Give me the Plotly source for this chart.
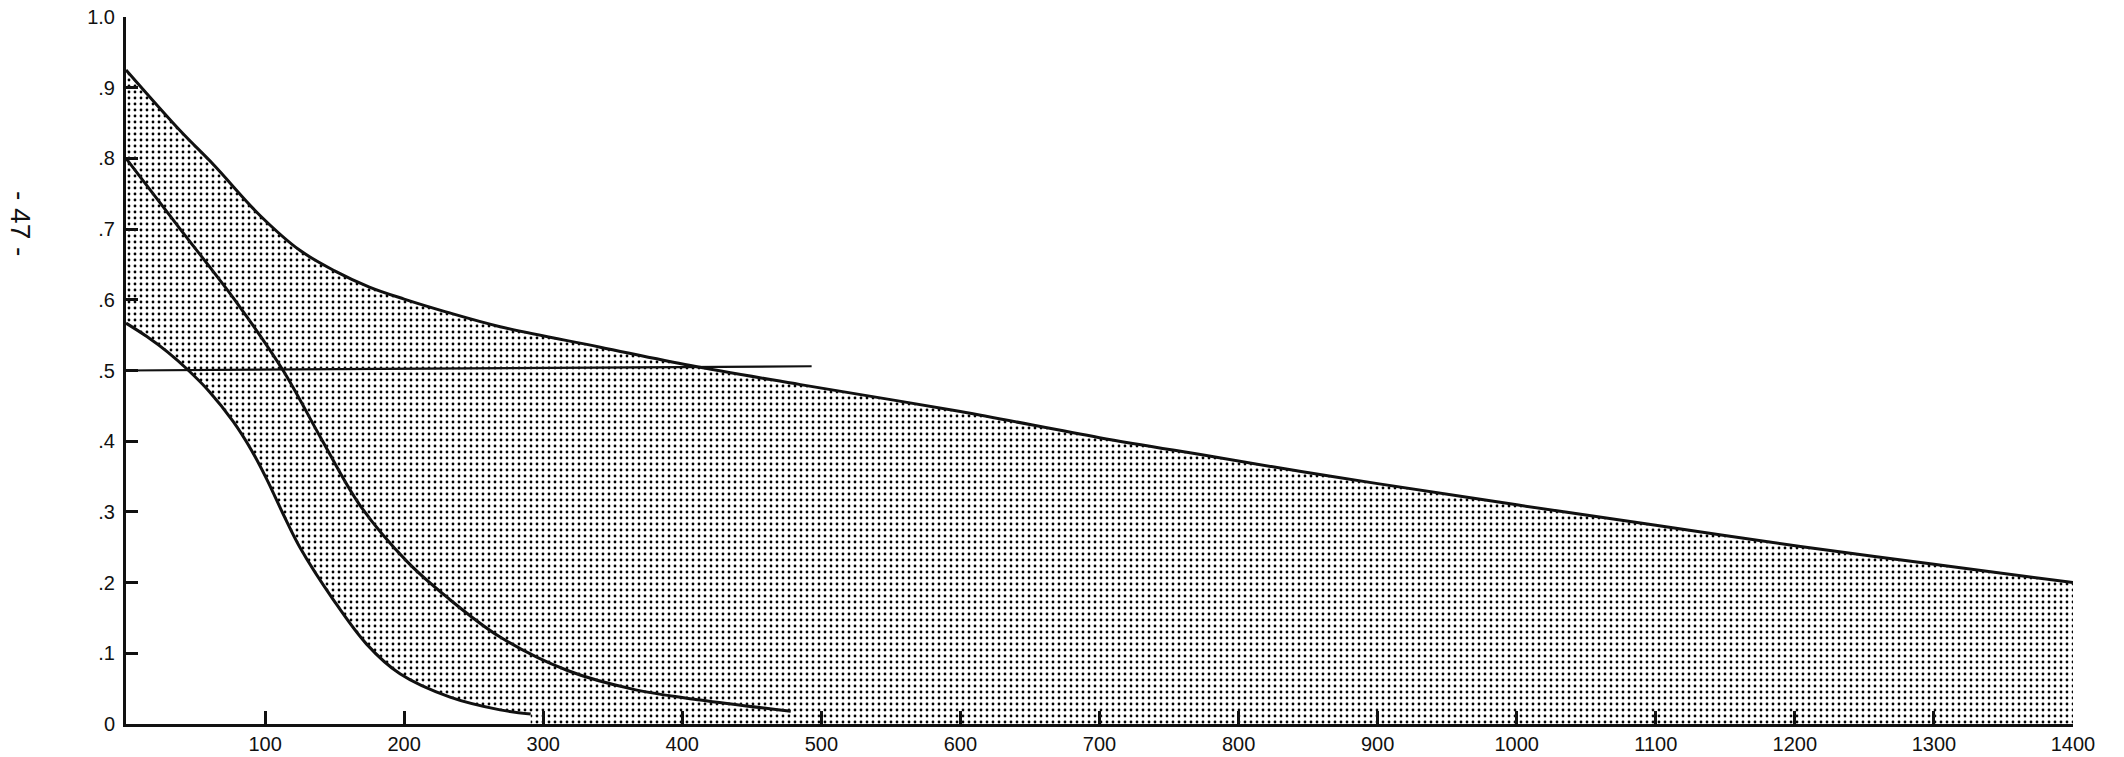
import plotly.graph_objects as go

# Upper boundary of the shaded band
upper_x = [0, 39, 63, 96, 125, 150, 175, 200, 230, 269, 341, 406, 485, 600, 700, 782, 845, 900, 1000, 1100, 1204, 1300, 1400]
upper_y = [0.925, 0.839, 0.791, 0.72, 0.670, 0.641, 0.618, 0.601, 0.583, 0.562, 0.533, 0.507, 0.48, 0.442, 0.405, 0.378, 0.357, 0.340, 0.310, 0.281, 0.251, 0.226, 0.200]

# Lower boundary of the shaded band (left part)
lower_x = [0, 15, 30, 45, 60, 77, 90, 101, 113, 125, 149, 173, 197, 233, 269, 291]
lower_y = [0.567, 0.548, 0.526, 0.50, 0.470, 0.428, 0.388, 0.347, 0.297, 0.250, 0.176, 0.113, 0.071, 0.038, 0.020, 0.014]

# Middle curve
mid_x = [0, 39, 80, 113, 140, 168, 202, 231, 269, 317, 365, 413, 478]
mid_y = [0.80, 0.70, 0.595, 0.50, 0.405, 0.31, 0.230, 0.179, 0.123, 0.076, 0.049, 0.034, 0.018]

# Horizontal reference line
ref_x = [0, 493]
ref_y = [0.500, 0.506]

x_ticks = [100, 200, 300, 400, 500, 600, 700, 800, 900, 1000, 1100, 1200, 1300, 1400]
x_labels = [str(v) for v in x_ticks]
y_ticks = [0, 0.1, 0.2, 0.3, 0.4, 0.5, 0.6, 0.7, 0.8, 0.9, 1.0]
y_labels = ["0", ".1", ".2", ".3", ".4", ".5", ".6", ".7", ".8", ".9", "1.0"]

INK = "#111111"
FONT = "Liberation Sans, Arial, Helvetica, sans-serif"
SPL = dict(shape="spline", smoothing=1.0)

fig = go.Figure()

# stippled area under the upper curve
fig.add_trace(go.Scatter(
    x=upper_x, y=upper_y, mode="lines",
    line=dict(color=INK, width=3, **SPL),
    fill="tozeroy", fillcolor="rgba(0,0,0,0)",
    fillpattern=dict(shape=".", size=6, solidity=0.17, fgcolor="#000000",
                     bgcolor="#ffffff", fillmode="replace"),
    hoverinfo="skip", showlegend=False))

# white area beneath the lower curve
fig.add_trace(go.Scatter(
    x=lower_x, y=lower_y, mode="lines",
    line=dict(color=INK, width=3, **SPL),
    fill="tozeroy", fillcolor="#ffffff",
    hoverinfo="skip", showlegend=False))

# middle curve
fig.add_trace(go.Scatter(
    x=mid_x, y=mid_y, mode="lines",
    line=dict(color=INK, width=3, **SPL),
    hoverinfo="skip", showlegend=False))

# horizontal line near .5
fig.add_trace(go.Scatter(
    x=ref_x, y=ref_y, mode="lines",
    line=dict(color=INK, width=2.2),
    hoverinfo="skip", showlegend=False))

fig.update_layout(
    width=2124, height=757,
    margin=dict(l=126, r=51, t=17, b=33, autoexpand=False),
    paper_bgcolor="white", plot_bgcolor="white",
    font=dict(family=FONT, size=18, color=INK),
    xaxis=dict(range=[0, 1400], showgrid=False, zeroline=False, automargin=False,
               showline=True, linecolor=INK, linewidth=3,
               ticks="inside", ticklen=13, tickwidth=2.5, tickcolor=INK,
               tickmode="array", tickvals=x_ticks, ticktext=x_labels,
               tickfont=dict(size=20, family=FONT, color=INK),
               ticklabelstandoff=0),
    yaxis=dict(range=[0, 1.0], showgrid=False, zeroline=False, automargin=False,
               showline=True, linecolor=INK, linewidth=3,
               ticks="inside", ticklen=12, tickwidth=2.5, tickcolor=INK,
               tickmode="array", tickvals=y_ticks, ticktext=y_labels,
               tickfont=dict(size=20, family=FONT, color=INK),
               ticklabelstandoff=4),
    annotations=[dict(
        text="- 47 -", xref="paper", yref="paper",
        x=(20 - 126) / 1947, y=(724 - 223) / 707,
        xanchor="center", yanchor="middle",
        showarrow=False, textangle=90,
        font=dict(family=FONT, size=28, color=INK))],
)

fig.write_html("out.html")
